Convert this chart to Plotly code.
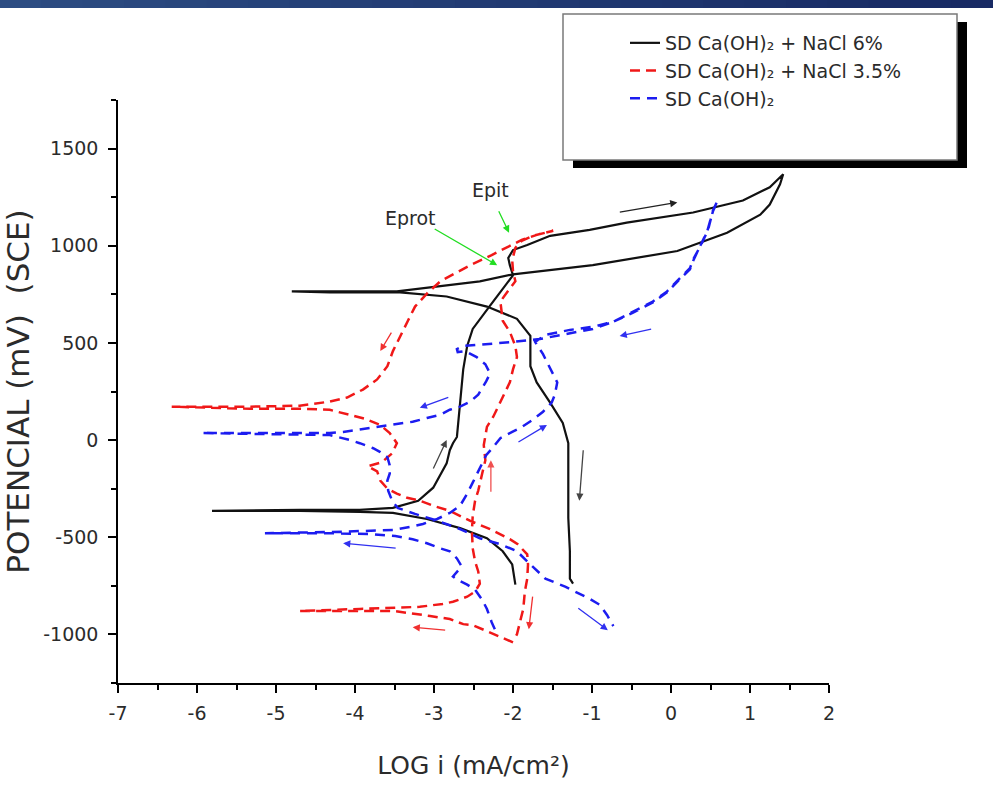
import plotly.graph_objects as go

# ---------------- data (log i in mA/cm2, potential in mV vs SCE) ----------------
# SD Ca(OH)2 + NaCl 6%  (black, solid)
nacl6_logi = [-1.97, -2.01, -2.13, -2.33, -2.67, -3.09, -3.52, -3.94, -4.70, -5.81,
              -4.70, -3.94, -3.52, -3.20, -3.01, -2.84, -2.80, -2.76, -2.71, -2.67,
              -2.63, -2.58, -2.51, -2.29, -2.13, -2.00, -2.04, -2.06, -2.00, -1.82,
              -1.53, -1.03, -0.56, 0.28, 0.91, 1.25, 1.42,
              1.38, 1.25, 1.13, 0.71, 0.08, -0.99, -2.00, -2.42, -3.05, -3.47, -4.32, -4.80,
              -4.32, -3.43, -2.84, -2.33, -1.95, -1.78, -1.78, -1.70, -1.53, -1.37,
              -1.30, -1.30, -1.30, -1.28, -1.28, -1.24]
nacl6_mv = [-744, -640, -572, -505, -453, -406, -375, -369, -364, -364,
            -359, -359, -349, -312, -245, -120, -52, -16, 16, 193,
            364, 484, 572, 692, 780, 848, 900, 937, 978, 1004,
            1051, 1082, 1119, 1171, 1233, 1301, 1368,
            1316, 1212, 1160, 1067, 973, 900, 853, 817, 786, 765, 765, 765,
            760, 760, 739, 687, 624, 536, 380, 297, 193, 88,
            -16, -208, -401, -572, -713, -739]

# SD Ca(OH)2 + NaCl 3.5%  (red, dashed)
nacl35_logi = [-2.00, -2.23, -2.51, -2.63, -2.80, -3.05, -3.30, -3.52, -3.94, -4.70,
               -3.94, -3.18, -2.89, -2.76, -2.58, -2.48, -2.42, -2.44, -2.48, -2.51,
               -2.52, -2.51, -2.48, -2.44, -2.39, -2.35, -2.37, -2.33, -2.25, -2.16,
               -2.04, -2.00, -1.95, -1.97, -2.04, -2.13, -2.14, -2.16, -2.04, -1.97,
               -2.00, -2.01, -1.97, -1.89, -1.75, -1.49,
               -1.66, -1.89, -2.01, -2.14, -2.27, -2.54, -2.80, -2.92, -3.09, -3.24,
               -3.33, -3.43, -3.52, -3.59, -3.72, -3.90, -4.10, -4.32, -4.70, -5.33, -6.32,
               -5.33, -4.70, -4.32, -4.06, -3.87, -3.68, -3.56, -3.47, -3.53, -3.66,
               -3.84, -3.72, -3.68, -3.59, -3.47, -3.34, -3.18, -3.01, -2.80, -2.54,
               -2.29, -2.04, -1.94, -1.82, -1.81, -1.82, -1.85, -1.87, -1.91, -1.95, -1.99]
nacl35_mv = [-1041, -999, -952, -947, -921, -905, -890, -879, -879, -879,
             -869, -858, -843, -832, -806, -780, -739, -676, -624, -557,
             -468, -390, -312, -260, -172, -104, -26, 68, 120, 193,
             297, 364, 427, 484, 557, 614, 661, 713, 780, 817,
             869, 926, 989, 1025, 1051, 1077,
             1061, 1030, 1004, 978, 952, 900, 843, 817, 754, 687,
             614, 536, 458, 380, 312, 260, 219, 198, 177, 172, 172,
             161, 161, 156, 130, 109, 78, 36, -16, -68, -114,
             -135, -161, -208, -250, -276, -297, -312, -338, -364, -416,
             -458, -510, -536, -588, -640, -713, -780, -869, -937, -999, -1030]

# SD Ca(OH)2  (blue, dashed)
caoh_logi = [-2.23, -2.27, -2.33, -2.39, -2.48, -2.58, -2.71, -2.76, -2.65, -2.71,
             -2.80, -2.92, -3.09, -3.27, -3.49, -3.81, -4.32, -5.14,
             -4.32, -3.81, -3.52, -3.30, -3.14, -2.96, -2.80, -2.67, -2.58, -2.51,
             -2.42, -2.34, -2.25, -2.16, -2.01, -1.91, -1.75, -1.62, -1.51, -1.47,
             -1.44, -1.51, -1.62, -1.72, -1.59, -1.28, -0.99, -0.73, -0.48, -0.23,
             -0.05, 0.11, 0.24, 0.29, 0.37, 0.46, 0.53, 0.59,
             0.53, 0.47, 0.38, 0.29, 0.24, 0.11, -0.05, -0.23, -0.48, -0.73,
             -0.99, -1.32, -1.66, -2.00, -2.33, -2.63, -2.71, -2.70, -2.61, -2.46,
             -2.35, -2.29, -2.34, -2.44, -2.54, -2.67, -2.80, -2.92, -3.09, -3.27,
             -3.39, -3.56, -3.68, -3.97, -4.15, -4.32, -5.94,
             -4.32, -4.06, -3.94, -3.77, -3.68, -3.59, -3.56, -3.56, -3.59, -3.58,
             -3.53, -3.46, -3.24, -2.95, -2.67, -2.42, -2.16, -1.95, -1.78, -1.59,
             -1.34, -1.03, -0.90, -0.81, -0.73]
caoh_mv = [-973, -937, -869, -822, -770, -744, -718, -702, -650, -609,
           -572, -557, -531, -510, -494, -484, -479, -479,
           -473, -468, -463, -447, -432, -406, -375, -338, -276, -219,
           -140, -78, -36, 10, 42, 62, 104, 146, 193, 234,
           297, 354, 442, 505, 541, 567, 583, 609, 656, 708,
           760, 827, 879, 931, 999, 1077, 1176, 1233,
           1181, 1082, 1004, 937, 885, 832, 765, 713, 661, 609,
           572, 546, 520, 505, 494, 484, 468, 453, 458, 427,
           390, 343, 302, 234, 198, 172, 156, 130, 114, 94,
           88, 78, 68, 52, 42, 36, 36,
           26, 0, -16, -42, -62, -88, -130, -172, -208, -260,
           -312, -349, -380, -416, -458, -505, -536, -572, -640, -713,
           -754, -817, -848, -900, -957]

series_names = ["SD Ca(OH)\u2082 + NaCl 6%",
                "SD Ca(OH)\u2082 + NaCl 3.5%",
                "SD Ca(OH)\u2082"]

x_ticks = [-7, -6, -5, -4, -3, -2, -1, 0, 1, 2]
x_ticklabels = ["-7", "-6", "-5", "-4", "-3", "-2", "-1", "0", "1", "2"]
y_ticks = [-1000, -500, 0, 500, 1000, 1500]
y_ticklabels = ["-1000", "-500", "0", "500", "1000", "1500"]

# ---------------- layout geometry ----------------
W, H = 993, 791
ML, MR, MT, MB = 118, 164, 100, 108
PW, PH = W - ML - MR, H - MT - MB


def px_x(p):
    return (p - ML) / PW


def px_y(p):
    return (H - MB - p) / PH


FONT = "DejaVu Sans, Arial, sans-serif"
TXT = "#2b2b2b"

fig = go.Figure()
fig.add_trace(go.Scatter(x=nacl6_logi, y=nacl6_mv, mode="lines", name=series_names[0],
                         legendgroup="a", line=dict(color="#111111", width=2.2)))
fig.add_trace(go.Scatter(x=nacl35_logi, y=nacl35_mv, mode="lines", name=series_names[1],
                         legendgroup="b", line=dict(color="#f01818", width=2.5, dash="10px,6px")))
fig.add_trace(go.Scatter(x=caoh_logi, y=caoh_mv, mode="lines", name=series_names[2],
                         legendgroup="c", line=dict(color="#1c1cf0", width=2.5, dash="10px,7px")))

shapes = []
# top banner (gradient imitation)
n_steps = 24
c0, c1 = (44, 76, 130), (24, 42, 100)
for i in range(n_steps):
    t = i / (n_steps - 1)
    col = "rgb({},{},{})".format(*[int(a + (b - a) * t) for a, b in zip(c0, c1)])
    shapes.append(dict(type="rect", xref="paper", yref="paper",
                       x0=px_x(W * i / n_steps), x1=px_x(W * (i + 1) / n_steps + 1),
                       y0=px_y(8), y1=px_y(-2), line=dict(width=0), fillcolor=col,
                       layer="above"))
# legend box with drop shadow
shapes.append(dict(type="rect", xref="paper", yref="paper",
                   x0=px_x(573), x1=px_x(967), y0=px_y(168), y1=px_y(22),
                   line=dict(width=0), fillcolor="black", layer="above"))
shapes.append(dict(type="rect", xref="paper", yref="paper",
                   x0=px_x(563), x1=px_x(957), y0=px_y(160), y1=px_y(14),
                   line=dict(width=1.5, color="#7a7a7a"), fillcolor="white", layer="above"))

annotations = [
    dict(x=-2.29, y=1285, text="Epit", showarrow=False, font=dict(size=19, color=TXT, family=FONT)),
    dict(x=-3.30, y=1145, text="Eprot", showarrow=False, font=dict(size=19, color=TXT, family=FONT)),
]
# direction / marker arrows: (x, y, ax, ay, color)
arrows = [
    (-2.05, 1067, -11, -23, "#22dd22"),
    (-2.20, 900, -64, -37, "#22dd22"),
    (0.08, 1223, -59, 10, "#222222"),
    (-2.84, 0, -14, 30, "#444444"),
    (-1.16, -312, 4, -52, "#444444"),
    (-3.68, 458, 12, -20, "#f03030"),
    (-2.28, -104, 0, 33, "#f05050"),
    (-1.80, -973, 4, -34, "#f03030"),
    (-3.27, -963, 34, 3, "#f03030"),
    (-0.65, 536, 33, -7, "#3030f0"),
    (-3.18, 166, 30, -11, "#3030f0"),
    (-1.57, 78, -30, 18, "#3030f0"),
    (-4.15, -531, 54, 5, "#3030f0"),
    (-0.80, -978, -31, -23, "#3030f0"),
]
for x, y, ax, ay, col in arrows:
    annotations.append(dict(x=x, y=y, ax=ax, ay=ay, text="", showarrow=True,
                            arrowhead=2, arrowsize=1.1, arrowwidth=1.3, arrowcolor=col,
                            standoff=0))

fig.update_layout(
    width=W, height=H,
    margin=dict(l=ML, r=MR, t=MT, b=MB, autoexpand=False),
    paper_bgcolor="white", plot_bgcolor="white",
    font=dict(family=FONT, color=TXT),
    shapes=shapes, annotations=annotations,
    showlegend=True,
    legend=dict(x=px_x(625), y=px_y(24), xanchor="left", yanchor="top",
                bgcolor="rgba(0,0,0,0)", borderwidth=0,
                font=dict(size=19, color=TXT, family=FONT),
                traceorder="grouped", tracegroupgap=0),
)
fig.update_xaxes(
    range=[-7, 2], tickmode="array", tickvals=x_ticks, ticktext=x_ticklabels,
    ticks="outside", ticklen=8, tickwidth=1.5, tickcolor="black",
    showline=True, linecolor="black", linewidth=1.5, mirror=False,
    showgrid=False, zeroline=False, ticklabelstandoff=4, automargin=False,
    tickfont=dict(size=19, color=TXT, family=FONT),
    minor=dict(tickvals=[-6.5, -5.5, -4.5, -3.5, -2.5, -1.5, -0.5, 0.5, 1.5],
               ticks="outside", ticklen=5, tickwidth=1.5, tickcolor="black"),
    title=dict(text="LOG i (mA/cm\u00b2)", font=dict(size=25, color=TXT, family=FONT),
               standoff=34),
)
fig.update_yaxes(
    range=[-1250, 1750], tickmode="array", tickvals=y_ticks, ticktext=y_ticklabels,
    ticks="outside", ticklen=8, tickwidth=1.5, tickcolor="black",
    showline=True, linecolor="black", linewidth=1.5, mirror=False,
    showgrid=False, zeroline=False, ticklabelstandoff=6, automargin=False,
    tickfont=dict(size=19, color=TXT, family=FONT),
    minor=dict(tickvals=[-1250, -750, -250, 250, 750, 1250, 1750],
               ticks="outside", ticklen=5, tickwidth=1.5, tickcolor="black"),
    title=dict(text="POTENCIAL (mV)\u00a0 (SCE)", font=dict(size=31, color=TXT, family=FONT),
               standoff=20),
)

fig.write_html("out.html", config={"displayModeBar": False},
               post_script="document.body.style.margin='0';")
